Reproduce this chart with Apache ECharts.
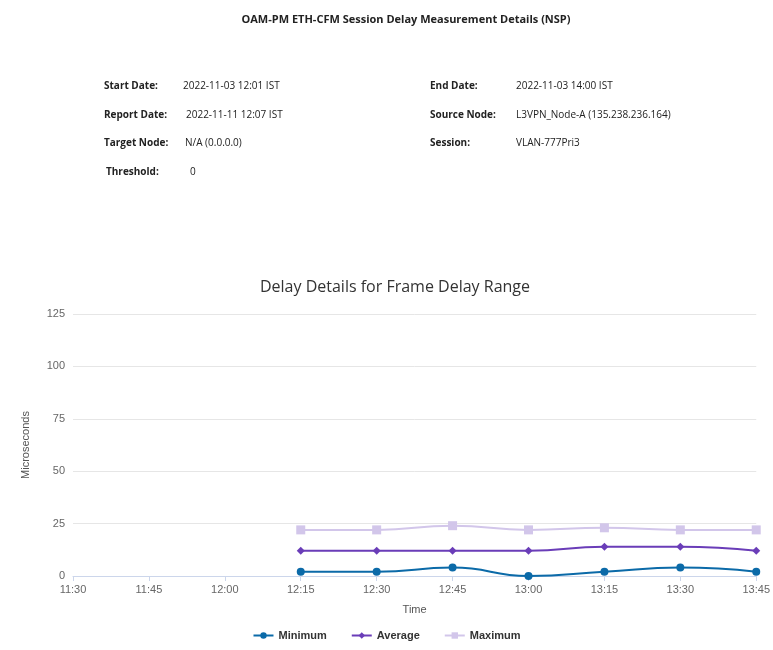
<!DOCTYPE html>
<html><head><meta charset="utf-8">
<script src="https://cdn.jsdelivr.net/npm/echarts@6/dist/echarts.min.js"></script>
<style>
body{margin:0;background:#fff;font-family:"Open Sans",sans-serif;}
#c{position:absolute;left:0;top:0;width:773px;height:650px;}
.t{position:absolute;font-size:10px;color:#222;white-space:nowrap;}
.b{font-weight:bold;}
</style></head><body>
<div id="c"></div>
<div class="t b" style="left:0;width:812px;text-align:center;top:11px;font-size:11px;">OAM-PM ETH-CFM Session Delay Measurement Details (NSP)</div>
<div class="t b" style="left:104px;top:78px">Start Date:</div><div class="t" style="left:183px;top:78px">2022-11-03 12:01 IST</div>
<div class="t b" style="left:104px;top:107px">Report Date:</div><div class="t" style="left:186px;top:107px">2022-11-11 12:07 IST</div>
<div class="t b" style="left:104px;top:135px">Target Node:</div><div class="t" style="left:185px;top:135px">N/A (0.0.0.0)</div>
<div class="t b" style="left:106px;top:164px">Threshold:</div><div class="t" style="left:190px;top:164px">0</div>
<div class="t b" style="left:430px;top:78px">End Date:</div><div class="t" style="left:516px;top:78px">2022-11-03 14:00 IST</div>
<div class="t b" style="left:430px;top:107px">Source Node:</div><div class="t" style="left:516px;top:107px">L3VPN_Node-A (135.238.236.164)</div>
<div class="t b" style="left:430px;top:135px">Session:</div><div class="t" style="left:516px;top:135px">VLAN-777Pri3</div>
<script>
const categories=["11:30","11:45","12:00","12:15","12:30","12:45","13:00","13:15","13:30","13:45"];
const minimum=[null,null,null,2,2,4,0,2,4,2];
const average=[null,null,null,12,12,12,12,14,14,12];
const maximum=[null,null,null,22,22,24,22,23,22,22];
const yTicks={min:0,max:125,interval:25};
const ch=echarts.init(document.getElementById('c'));
ch.setOption({
 animation:false,
 title:{text:"Delay Details for Frame Delay Range",left:390,textAlign:'center',top:274,textStyle:{fontSize:16,fontWeight:'normal',color:'#333',fontFamily:'Open Sans'}},
 grid:{left:73,right:15,top:314,bottom:74},
 legend:{bottom:4,left:'center',itemGap:24,itemWidth:20,itemHeight:8,textStyle:{fontWeight:'bold',fontSize:11,color:'#333'},data:['Minimum','Average','Maximum']},
 xAxis:{type:'category',data:categories,boundaryGap:false,name:'Time',nameLocation:'middle',nameGap:28,nameTextStyle:{color:'#555',fontSize:11},
  axisLine:{lineStyle:{color:'#ccd6eb'}},axisTick:{show:true,alignWithLabel:true,lineStyle:{color:'#ccd6eb'}},axisLabel:{color:'#666',fontSize:11}},
 yAxis:{type:'value',min:yTicks.min,max:yTicks.max,interval:yTicks.interval,name:'Microseconds',nameLocation:'middle',nameGap:42,nameTextStyle:{color:'#555',fontSize:11},
  axisLabel:{color:'#666',fontSize:11},splitLine:{lineStyle:{color:'#e6e6e6'}}},
 series:[
  {name:'Minimum',type:'line',smooth:true,data:minimum,symbol:'circle',symbolSize:8,itemStyle:{color:'#0b6aa8'},lineStyle:{width:2}},
  {name:'Average',type:'line',smooth:true,data:average,symbol:'diamond',symbolSize:8,itemStyle:{color:'#6a3db8'},lineStyle:{width:2}},
  {name:'Maximum',type:'line',smooth:true,data:maximum,symbol:'rect',symbolSize:9,itemStyle:{color:'#d2c6ea'},lineStyle:{width:2}}
 ]
});
</script></body></html>
